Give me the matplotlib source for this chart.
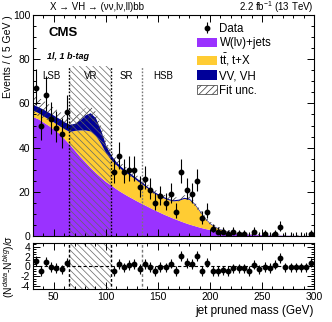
import numpy as np
import matplotlib.pyplot as plt
from matplotlib.patches import Patch
from matplotlib.ticker import MultipleLocator

plt.rcParams['font.family'] = ['Liberation Sans', 'DejaVu Sans']
plt.rcParams['mathtext.fontset'] = 'custom'
plt.rcParams['mathtext.rm'] = 'Liberation Sans'
plt.rcParams['mathtext.it'] = 'Liberation Sans:italic'
plt.rcParams['axes.unicode_minus'] = False
plt.rcParams['hatch.linewidth'] = 0.5

# background model, read every 5 GeV from 30 to 300
mass = np.arange(30, 301, 5)
w_jets = [54, 53, 51.5, 50, 48.3, 46.5, 44, 41.5, 38.8, 36, 33.5, 31, 28.7, 26.6, 24.6, 23,
          21.3, 19.8, 18.4, 17.1, 15.8, 14.6, 13.4, 12.2, 11.1, 10.0, 9.0, 8.0, 7.1, 6.2, 5.4,
          4.7, 4.0, 3.4, 2.9, 2.5, 2.1, 1.8, 1.5, 1.25, 1.05, 0.88, 0.74, 0.63, 0.55, 0.48,
          0.42, 0.38, 0.34, 0.30, 0.27, 0.25, 0.23, 0.21, 0.19]
ttbar = [3.0, 2.8, 2.8, 2.9, 3.2, 3.5, 4.5, 5.8, 9.0, 12.0, 14.5, 16.5, 16.8, 15.4, 12.9, 11.5,
         10.9, 10.3, 10.1, 9.8, 9.3, 8.9, 8.2, 7.6, 7.4, 7.3, 7.4, 7.9, 9.1, 10.8, 11.2, 9.7,
         7.2, 4.6, 2.7, 1.55, 0.9, 0.5, 0.35, 0.23, 0.15, 0.09, 0.06, 0.04, 0.03, 0.02, 0.02,
         0.01, 0.01, 0.01, 0.01, 0.01, 0.01, 0.01, 0.01]
vv_vh = [2.5, 2.7, 3.0, 3.1, 3.1, 3.2, 3.2, 3.2, 3.2, 4.5, 6.8, 8.3, 8.0, 6.0, 3.5, 2.0, 1.3,
         1.1, 1.0, 0.9, 0.9, 0.8, 0.7, 0.7, 0.6, 0.6, 0.5, 0.5, 0.5, 0.5, 0.5, 0.4, 0.4, 0.3,
         0.3, 0.25, 0.2, 0.2, 0.15, 0.12, 0.1, 0.08, 0.07, 0.06, 0.05, 0.05, 0.04, 0.04, 0.03,
         0.03, 0.03, 0.02, 0.02, 0.02, 0.02]
fit_unc = [4.5, 4.2, 4.0, 3.7, 3.5, 3.3, 3.1, 3.0, 3.0, 3.0, 3.0, 3.0, 2.9, 2.6, 2.3, 2.0, 1.8,
           1.7, 1.6, 1.5, 1.4, 1.3, 1.2, 1.15, 1.1, 1.05, 1.0, 1.0, 1.0, 1.0, 1.0, 0.95, 0.9,
           0.85, 0.8, 0.7, 0.6, 0.55, 0.5, 0.45, 0.4, 0.38, 0.35, 0.32, 0.3, 0.28, 0.26, 0.25,
           0.24, 0.23, 0.22, 0.21, 0.2, 0.2, 0.2]

# data, 5 GeV bins; the VR (65-105) is blinded
centers_lsb = np.arange(32.5, 65, 5)
data_lsb = [67, 50, 64, 53, 49, 46, 56]
pull_lsb = [1.2, -0.9, 1.0, -0.1, -0.3, -0.6, 0.8]
centers_high = np.arange(107.5, 300, 5)
data_high = [29, 36, 29, 30, 30, 22, 26, 21, 15, 18, 15, 19, 11, 29, 21, 19, 25, 8, 11, 3,
             2, 2, 1, 2, 1, 1, 0, 2, 0, 1, 0, 1, 4, 0, 0, 0, 0, 0, 1]
pull_high = [-0.9, 0.5, -0.2, 0.3, 0.5, -0.5, 0.5, -0.1, -0.9, -0.1, -0.2, 0.6, -1.0, 2.1,
             0.7, 0.5, 2.1, -0.9, 0.8, -1.0, -0.9, -0.8, -0.9, -0.4, -0.4, -0.4, -0.9, 0.4,
             -0.6, -0.1, -0.3, 0.4, 1.7, -0.2, -0.2, -0.2, -0.2, -0.2, 0.8]

c_w = '#9a32ff'
c_tt = '#ffcc33'
c_vv = '#000099'

fig = plt.figure(figsize=(3.32, 3.22), dpi=100)
ax = fig.add_axes([33 / 332, 1 - 236 / 322, 281 / 332, 221 / 322])
rax = fig.add_axes([33 / 332, 1 - 289 / 322, 281 / 332, 46 / 322])

w = np.array(w_jets)
t = w + np.array(ttbar)
tot = t + np.array(vv_vh)
unc = np.array(fit_unc)
ax.fill_between(mass, 0, w, color=c_w, lw=0)
ax.fill_between(mass, w, t, color=c_tt, lw=0)
ax.fill_between(mass, t, tot, color=c_vv, lw=0)
ax.fill_between(mass, tot - unc, tot + unc, facecolor='none', edgecolor='#333333',
                hatch='/////', lw=0)

# blinded VR
ax.fill_between([65, 105], 0, 77, facecolor='none', edgecolor='#666666', hatch='\\\\\\\\\\', lw=0)
rax.fill_between([65, 105], -5, 5, facecolor='none', edgecolor='#666666', hatch='\\\\\\\\\\', lw=0)
for xb, col in [(65, 'k'), (105, 'k'), (135, '#777777')]:
    ax.plot([xb, xb], [0, 77], ls=(0, (1.2, 1.2)), color=col, lw=1)
    rax.plot([xb, xb], [-5, 5], ls=(0, (2, 1.5)), color=col, lw=1)
rax.axhline(0, color='k', ls=(0, (3, 2)), lw=0.8)

# data
cent = np.concatenate([centers_lsb, centers_high])
n = np.array(data_lsb + data_high, dtype=float)
err_lo = np.where(n > 0, np.sqrt(n + 0.25) - 0.5, 0)
err_hi = np.where(n > 0, np.sqrt(n + 0.25) + 0.5, 1.84)
ax.errorbar(cent, n, yerr=[err_lo, err_hi], fmt='none', ecolor='k', elinewidth=0.8)
nz = n > 0
ax.plot(cent[nz], n[nz], 'o', color='k', ms=3.2)

pulls = np.array(pull_lsb + pull_high)
rax.errorbar(cent, pulls, yerr=1, fmt='o', color='k', ms=3.2, elinewidth=0.8)

for a in (ax, rax):
    a.set_xlim(30, 300)
    a.xaxis.set_major_locator(MultipleLocator(50))
    a.xaxis.set_minor_locator(MultipleLocator(10))
    a.tick_params(which='both', direction='in', top=True, right=True, labelsize=7.5, width=0.7)
    a.tick_params(which='major', length=5)
    a.tick_params(which='minor', length=2.5)
    for s in a.spines.values():
        s.set_linewidth(0.8)

ax.set_ylim(0, 100)
ax.yaxis.set_major_locator(MultipleLocator(20))
ax.yaxis.set_minor_locator(MultipleLocator(5))
ax.tick_params(labelbottom=False, pad=2)
fig.text(8 / 332, 1 - 15 / 322, 'Events / ( 5 GeV )', fontsize=7.5, rotation=90,
         ha='center', va='top')

rax.set_ylim(-4.6, 4.8)
rax.yaxis.set_minor_locator(MultipleLocator(0.5))
rax.tick_params(pad=2)
rax.set_yticks([-4, -2, 0, 2, 4])
rax.set_ylabel('(N$^{data}$-N$^{bkg}$)/σ', fontsize=7.5, labelpad=3)
rax.set_xlabel('jet pruned mass (GeV)', fontsize=8.5, loc='right', labelpad=2)

# texts
fig.text(50 / 332, 1 - 7 / 322, 'X → VH → (νν,lν,ll)bb', fontsize=7, va='center', ha='left')
fig.text(314 / 332, 1 - 7 / 322, '2.2 fb$^{-1}$ (13 TeV)', fontsize=7, va='center', ha='right')
ax.text(45, 92, 'CMS', fontsize=9.5, fontweight='bold', va='center', ha='left')
ax.text(43, 81, '1l, 1 b-tag', fontsize=6.5, fontweight='bold', style='italic', va='center')
for lab, xm in [('LSB', 48), ('VR', 85), ('SR', 120), ('HSB', 155)]:
    ax.text(xm, 72.5, lab, fontsize=7, ha='center', va='center')

handles = [
    ax.errorbar([], [], yerr=[], fmt='o', color='k', ms=3.2, elinewidth=0.8),
    Patch(facecolor=c_w, lw=0),
    Patch(facecolor=c_tt, lw=0),
    Patch(facecolor=c_vv, lw=0),
    Patch(facecolor='white', edgecolor='#333333', hatch='/////', lw=0.5),
]
labels = ['Data', 'W(lν)+jets', r'$\mathrm{t\bar{t}}$, t+X', 'VV, VH', 'Fit unc.']
fig.legend(handles, labels, loc='upper left', bbox_to_anchor=(197 / 332, 1 - 23 / 322),
           frameon=False, fontsize=8.3, handlelength=1.7, handleheight=0.9,
           handletextpad=0.25, labelspacing=0.2, borderpad=0, borderaxespad=0)

fig.savefig('out.png', dpi=100)
